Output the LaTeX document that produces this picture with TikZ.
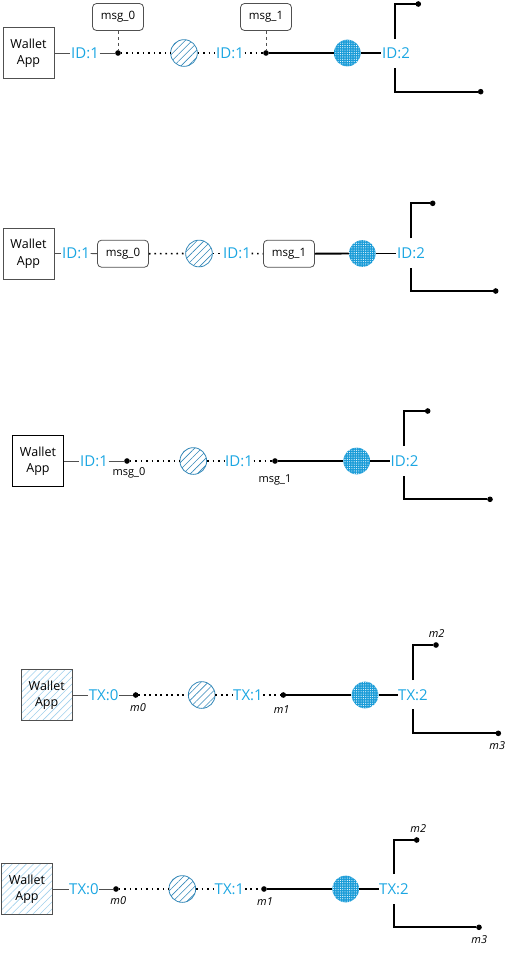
\documentclass[tikz,border=0pt]{standalone}
\usepackage{fontspec}
\setmainfont{Open Sans}
\usetikzlibrary{patterns.meta}
\definecolor{idblue}{RGB}{27,166,226}
\definecolor{hubblue}{RGB}{26,156,216}
\definecolor{ringblue}{RGB}{52,136,184}
\definecolor{hatchblue}{RGB}{160,208,236}
\definecolor{boxgrey}{RGB}{80,80,80}

\begin{document}
\begin{tikzpicture}[x=1pt, y=-1pt,
  wallet/.style={draw=boxgrey, line width=0.9pt, minimum width=51pt, minimum height=51pt, inner sep=0pt, align=center, font=\fontsize{12.5}{16.5}\selectfont},
  walletx/.style={wallet, pattern={Lines[angle=45, distance=5pt, line width=0.6pt]}, pattern color=hatchblue},
  msgbox/.style={draw=boxgrey, line width=0.8pt, rounded corners=4pt, minimum width=51pt, minimum height=27pt, inner sep=0pt, font=\fontsize{11.5}{13}\selectfont},
  idlabel/.style={text=idblue, inner sep=0.5pt, font=\fontsize{15}{18}\selectfont},
  msglabel/.style={inner sep=0pt, font=\fontsize{11}{12}\selectfont},
  mlabel/.style={inner sep=0pt, font=\itshape\fontsize{11}{12}\selectfont},
  hatched/.style={circle, draw=ringblue, line width=0.8pt, minimum size=26.7pt, inner sep=0pt, pattern={Lines[angle=45, distance=5pt, line width=0.6pt]}, pattern color=ringblue},
  hub/.style={circle, minimum size=26.7pt, inner sep=0pt, preaction={fill=hubblue}, pattern={Dots[radius=0.55pt, distance=2.3pt]}, pattern color=white},
  pin/.style={circle, draw, fill=black, line width=0.9pt, minimum size=4.6pt, inner sep=0pt},
  thin/.style={draw=boxgrey, line width=0.9pt},
  dots/.style={line width=1.6pt, dash pattern=on 1.6pt off 3.9pt},
  thick/.style={line width=1.9pt},
  tap/.style={draw=boxgrey, line width=0.9pt, dashed}]

  \useasboundingbox (0,0) rectangle (513,954);

  % First row
  \node[wallet] (W1) at (28.5,53) {Wallet\\App};
  \node[idlabel] (I1a) at (85,53) {ID:1};
  \node[pin] (d1a) at (118,53) {};
  \node[msgbox] (m1a) at (118,17) {msg\_0};
  \node[hatched] (h1) at (184,53) {};
  \node[idlabel] (I1b) at (230,53) {ID:1};
  \node[pin] (d1b) at (266,53) {};
  \node[msgbox] (m1b) at (266,17) {msg\_1};
  \node[hub] (s1) at (347.3,53) {};
  \node[idlabel] (J1) at (396,53) {ID:2};
  \coordinate (u1) at (395,39);
  \coordinate (l1) at (395,68.3);
  \node[pin] (e1a) at (418.3,4) {};
  \node[pin] (e1b) at (480.7,91.7) {};

  \draw[thin] (W1.east) -- (I1a.west);
  \draw[thin] (I1a.east) -- (d1a);
  \draw[tap] (m1a.south) -- (d1a);
  \draw[dots] (d1a) -- (h1.west);
  \draw[dots] (h1.east) -- (I1b.west);
  \draw[dots] (I1b.east) -- (d1b);
  \draw[tap] (m1b.south) -- (d1b);
  \draw[thick] (d1b) -- (s1.west);
  \draw[thick] (s1.east) -- (J1.west);
  \draw[thick] (u1) |- (e1a);
  \draw[thick] (l1) |- (e1b);

  % Second row
  \node[wallet] (W2) at (28.5,253.5) {Wallet\\App};
  \node[idlabel] (I2a) at (76,253.5) {ID:1};
  \node[msgbox] (m2a) at (123,253.7) {msg\_0};
  \node[hatched] (h2) at (199,253.5) {};
  \node[idlabel] (I2b) at (237,253.5) {ID:1};
  \node[msgbox] (m2b) at (289,253.7) {msg\_1};
  \node[hub] (s2) at (362.3,253.5) {};
  \node[idlabel] (J2) at (411,253.5) {ID:2};
  \coordinate (u2) at (410.7,238.3);
  \coordinate (l2) at (410.7,268.3);
  \node[pin] (e2a) at (432.7,203.3) {};
  \node[pin] (e2b) at (495.7,291) {};

  \draw[thin] (W2.east) -- (I2a.west);
  \draw[thin] (I2a.east) -- (m2a.west);
  \draw[dots] (m2a.east) -- (h2.west);
  \draw[dots] (h2.east) -- (I2b.west);
  \draw[dots] (I2b.east) -- (m2b.west);
  \draw[thick] (m2b.east) -- (s2.west);
  \draw[thick] (s2.east) -- (J2.west);
  \draw[thick] (u2) |- (e2a);
  \draw[thick] (l2) |- (e2b);

  % Third row
  \node[wallet, draw=black] (W3) at (38,461) {Wallet\\App};
  \node[idlabel] (I3a) at (94,461) {ID:1};
  \node[pin] (d3a) at (127,461) {};
  \node[msglabel] (n3a) at (129,473) {msg\_0};
  \node[hatched] (h3) at (193.3,461) {};
  \node[idlabel] (I3b) at (239,461) {ID:1};
  \node[pin] (d3b) at (275,461) {};
  \node[msglabel] (n3b) at (275,480) {msg\_1};
  \node[hub] (s3) at (356.7,461) {};
  \node[idlabel] (J3) at (404.5,461) {ID:2};
  \coordinate (u3) at (404.3,446);
  \coordinate (l3) at (404.3,476);
  \node[pin] (e3a) at (427.7,411) {};
  \node[pin] (e3b) at (490,499.3) {};

  \draw[thin] (W3.east) -- (I3a.west);
  \draw[thin] (I3a.east) -- (d3a);
  \draw[dots] (d3a) -- (h3.west);
  \draw[dots] (h3.east) -- (I3b.west);
  \draw[dots] (I3b.east) -- (d3b);
  \draw[thick] (d3b) -- (s3.west);
  \draw[thick] (s3.east) -- (J3.west);
  \draw[thick] (u3) |- (e3a);
  \draw[thick] (l3) |- (e3b);

  % Fourth row
  \node[walletx] (W4) at (46.7,695) {Wallet\\App};
  \node[idlabel] (I4a) at (103.7,695) {TX:0};
  \node[pin] (d4a) at (135.7,695) {};
  \node[mlabel] (n4a) at (138,707.3) {m0};
  \node[hatched] (h4) at (201.7,695) {};
  \node[idlabel] (I4b) at (248,695) {TX:1};
  \node[pin] (d4b) at (283.3,695) {};
  \node[mlabel] (n4b) at (281.7,709.3) {m1};
  \node[hub] (s4) at (365,695) {};
  \node[idlabel] (J4) at (413,695) {TX:2};
  \coordinate (u4) at (413.3,680);
  \coordinate (l4) at (413.3,709.3);
  \node[pin] (e4a) at (436,645) {};
  \node[pin] (e4b) at (498.3,733.3) {};
  \node[mlabel] (n4c) at (436.7,634) {m2};
  \node[mlabel] (n4d) at (497.3,746) {m3};

  \draw[thin] (W4.east) -- (I4a.west);
  \draw[thin] (I4a.east) -- (d4a);
  \draw[dots] (d4a) -- (h4.west);
  \draw[dots] (h4.east) -- (I4b.west);
  \draw[dots] (I4b.east) -- (d4b);
  \draw[thick] (d4b) -- (s4.west);
  \draw[thick] (s4.east) -- (J4.west);
  \draw[thick] (u4) |- (e4a);
  \draw[thick] (l4) |- (e4b);

  % Fifth row
  \node[walletx] (W5) at (27,889) {Wallet\\App};
  \node[idlabel] (I5a) at (84,889) {TX:0};
  \node[pin] (d5a) at (116,889) {};
  \node[mlabel] (n5a) at (118.3,901) {m0};
  \node[hatched] (h5) at (182.3,889) {};
  \node[idlabel] (I5b) at (229.5,889) {TX:1};
  \node[pin] (d5b) at (264,889) {};
  \node[mlabel] (n5b) at (265,901.7) {m1};
  \node[hub] (s5) at (345.7,889) {};
  \node[idlabel] (J5) at (394,889) {TX:2};
  \coordinate (u5) at (394,874);
  \coordinate (l5) at (394,904.3);
  \node[pin] (e5a) at (416.7,840) {};
  \node[pin] (e5b) at (479,927.3) {};
  \node[mlabel] (n5c) at (418.3,828.3) {m2};
  \node[mlabel] (n5d) at (479.3,939.3) {m3};

  \draw[thin] (W5.east) -- (I5a.west);
  \draw[thin] (I5a.east) -- (d5a);
  \draw[dots] (d5a) -- (h5.west);
  \draw[dots] (h5.east) -- (I5b.west);
  \draw[dots] (I5b.east) -- (d5b);
  \draw[thick] (d5b) -- (s5.west);
  \draw[thick] (s5.east) -- (J5.west);
  \draw[thick] (u5) |- (e5a);
  \draw[thick] (l5) |- (e5b);

\end{tikzpicture}
\end{document}
